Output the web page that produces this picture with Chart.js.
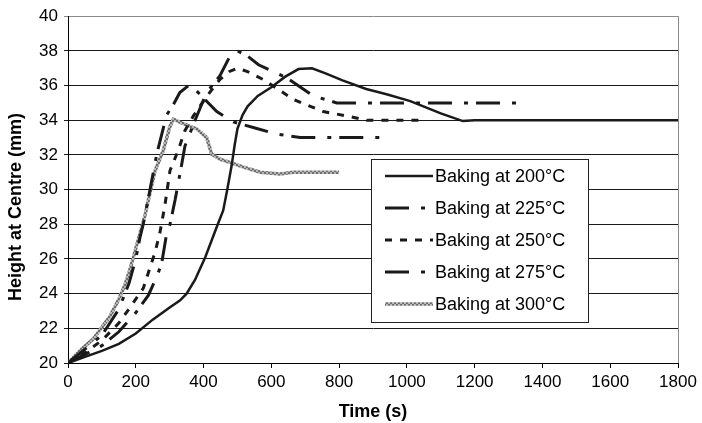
<!DOCTYPE html>
<html>
<head>
<meta charset="utf-8">
<script src="https://cdn.jsdelivr.net/npm/chart.js@4.4.1/dist/chart.umd.min.js"></script>
<style>
  html, body { margin: 0; padding: 0; background: #fff; }
  #wrap { width: 702px; height: 423px; }
</style>
</head>
<body>
<div id="wrap"><canvas id="chart" width="702" height="423"></canvas></div>
<script>
// time (s) and height at centre (mm)
const t200 = [0, 50, 100, 150, 200, 250, 300, 330, 350, 375, 405, 440, 458, 470, 483, 492, 500, 515, 530, 560, 600, 640, 680, 720, 760, 810, 880, 940, 1010, 1100, 1165, 1200, 1800];
const h200 = [20, 20.35, 20.7, 21.1, 21.7, 22.5, 23.2, 23.6, 24.0, 24.8, 26.1, 27.9, 28.8, 30.0, 31.4, 32.6, 33.5, 34.3, 34.8, 35.4, 35.9, 36.5, 36.95, 37.0, 36.7, 36.3, 35.8, 35.5, 35.1, 34.4, 33.95, 34.0, 34.0];

const t225 = [0, 50, 100, 150, 200, 237, 260, 276, 291, 301, 316, 335, 345, 375, 409, 448, 478, 500, 530, 562, 645, 724, 793, 850, 1340];
const h225 = [20, 20.5, 21.0, 21.8, 22.9, 23.9, 24.9, 25.7, 27.45, 28.0, 29.4, 31.4, 32.5, 34.0, 35.6, 36.55, 37.7, 38.0, 37.7, 37.2, 36.45, 35.4, 35.0, 35.0, 35.0];

const t250 = [0, 50, 100, 150, 183, 222, 257, 271, 286, 301, 326, 345, 370, 410, 448, 475, 500, 530, 576, 665, 753, 822, 881, 1050];
const h250 = [20, 20.6, 21.3, 22.3, 23.2, 24.3, 26.4, 27.5, 29.1, 31.1, 32.3, 33.4, 34.25, 35.4, 36.35, 36.8, 37.0, 36.8, 36.35, 35.2, 34.5, 34.25, 34.0, 34.0];

const t275 = [0, 50, 100, 150, 180, 200, 212, 222, 242, 262, 291, 311, 330, 360, 394, 439, 488, 552, 616, 685, 730, 935];
const h275 = [20, 20.8, 21.6, 23.1, 24.6, 26.0, 27.2, 28.0, 30.0, 32.05, 34.3, 34.9, 35.6, 36.07, 35.4, 34.5, 33.9, 33.55, 33.2, 33.0, 33.0, 33.0];

const t300 = [0, 40, 75, 124, 148, 168, 183, 207, 227, 237, 257, 281, 300, 311, 340, 380, 409, 424, 448, 488, 518, 567, 626, 664, 800];
const h300 = [20, 20.8, 21.4, 22.7, 23.6, 24.5, 25.4, 27.1, 28.5, 29.4, 31.1, 32.25, 33.6, 34.06, 33.8, 33.5, 33.0, 32.05, 31.76, 31.5, 31.3, 31.0, 30.9, 31.0, 31.0];

const seriesNames = ['Baking at 200°C', 'Baking at 225°C', 'Baking at 250°C', 'Baking at 275°C', 'Baking at 300°C'];
const xTicks = [0, 1800, 200];
const yTicks = [20, 40, 2];

const pts = (ts, hs) => ts.map((t, i) => ({ x: t, y: hs[i] }));

// speckled grey for the 300°C line
const pc = document.createElement('canvas');
pc.width = 4; pc.height = 4;
const pctx = pc.getContext('2d');
pctx.fillStyle = '#b8b8b8'; pctx.fillRect(0, 0, 4, 4);
pctx.fillStyle = '#6e6e6e';
pctx.fillRect(0, 0, 2, 2); pctx.fillRect(2, 2, 2, 2);
const greyPattern = pctx.createPattern(pc, 'repeat');

const FONT = "'Liberation Sans', Arial, sans-serif";

const extras = {
  id: 'extras',
  afterDraw(chart) {
    const ctx = chart.ctx;
    const ca = chart.chartArea;
    ctx.save();
    // right border of plot area
    ctx.strokeStyle = '#8a8a8a';
    ctx.lineWidth = 1;
    ctx.beginPath();
    ctx.moveTo(ca.right + 0.5, ca.top);
    ctx.lineTo(ca.right + 0.5, ca.bottom);
    ctx.stroke();

    // y axis title, sits a bit below the plot centre like the original
    ctx.save();
    ctx.translate(16, 207);
    ctx.rotate(-Math.PI / 2);
    ctx.font = 'bold 18px ' + FONT;
    ctx.fillStyle = '#000';
    ctx.textAlign = 'center';
    ctx.textBaseline = 'middle';
    ctx.fillText('Height at Centre (mm)', 0, 0);
    ctx.restore();

    // legend box
    const x0 = 371, y0 = 159, w = 217, h = 163;
    ctx.fillStyle = '#fff';
    ctx.fillRect(x0, y0, w, h);
    ctx.strokeStyle = '#222';
    ctx.strokeRect(x0 + 0.5, y0 + 0.5, w, h);
    ctx.font = '18px ' + FONT;
    ctx.textBaseline = 'middle';
    ctx.textAlign = 'left';
    chart.data.datasets.forEach((ds, i) => {
      const y = 176 + i * 32;
      ctx.beginPath();
      ctx.strokeStyle = ds.borderColor;
      ctx.lineWidth = ds.borderWidth;
      ctx.setLineDash(ds.borderDash || []);
      ctx.moveTo(385, y);
      ctx.lineTo(433, y);
      ctx.stroke();
      ctx.setLineDash([]);
      ctx.fillStyle = '#000';
      ctx.fillText(ds.label, 435, y + 1);
    });
    ctx.restore();
  }
};

new Chart(document.getElementById('chart'), {
  type: 'line',
  data: {
    datasets: [
      { label: seriesNames[0], data: pts(t200, h200), borderColor: '#1a1a1a', borderWidth: 2.5 },
      { label: seriesNames[1], data: pts(t225, h225), borderColor: '#1a1a1a', borderWidth: 3, borderDash: [24, 12, 4, 8] },
      { label: seriesNames[2], data: pts(t250, h250), borderColor: '#1a1a1a', borderWidth: 3, borderDash: [7, 8] },
      { label: seriesNames[3], data: pts(t275, h275), borderColor: '#1a1a1a', borderWidth: 3, borderDash: [24, 12, 4, 8] },
      { label: seriesNames[4], data: pts(t300, h300), borderColor: greyPattern, borderWidth: 3.5 }
    ]
  },
  options: {
    responsive: false,
    animation: false,
    elements: { point: { radius: 0 }, line: { tension: 0, fill: false } },
    layout: { padding: { left: 0, right: 24, top: 15, bottom: 0 } },
    plugins: { legend: { display: false }, tooltip: { enabled: false } },
    scales: {
      x: {
        type: 'linear',
        min: xTicks[0], max: xTicks[1],
        ticks: { stepSize: xTicks[2], color: '#000', font: { family: FONT, size: 17 }, padding: 4, maxRotation: 0, callback: v => String(v) },
        grid: { drawOnChartArea: false, drawTicks: true, tickLength: 5, color: '#000' },
        border: { color: '#000', width: 1 },
        title: { display: true, text: 'Time (s)', color: '#000', font: { family: FONT, size: 18, weight: 'bold' }, padding: { top: 6, bottom: 0 } },
        afterFit(scale) { scale.height = 60; }
      },
      y: {
        min: yTicks[0], max: yTicks[1],
        ticks: { stepSize: yTicks[2], color: '#000', font: { family: FONT, size: 17 }, padding: 6, callback: v => String(v) },
        grid: {
          drawTicks: true, tickLength: 4,
          color: ctx => ctx.tick && ctx.tick.value === yTicks[1] ? '#8a8a8a' : '#1a1a1a'
        },
        border: { color: '#000', width: 1 },
        afterFit(scale) { scale.width = 68; }
      }
    }
  },
  plugins: [extras]
});
</script>
</body>
</html>
